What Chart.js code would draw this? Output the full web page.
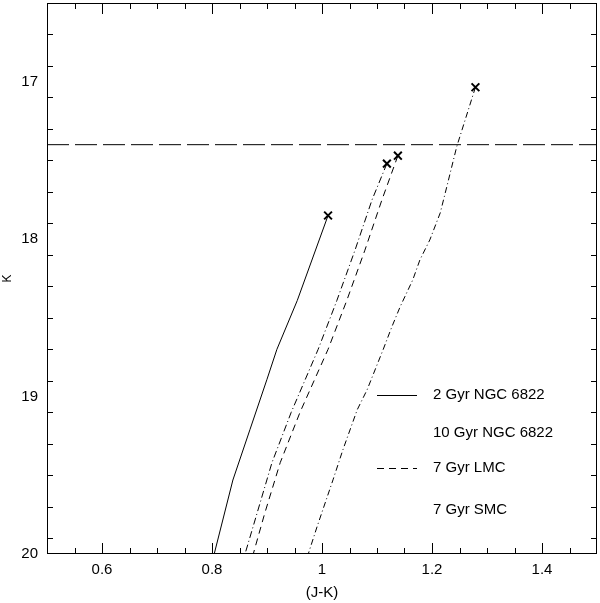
<!DOCTYPE html>
<html>
<head>
<meta charset="utf-8">
<script src="https://cdn.jsdelivr.net/npm/chart.js@4"></script>
<style>
  html, body { margin: 0; padding: 0; background: #fff; }
  canvas { display: block; }
</style>
</head>
<body>
<canvas id="c" width="600" height="603"></canvas>
<script>
// ---- data ----
const seriesLabels = ["2 Gyr NGC 6822", "10 Gyr NGC 6822", "7 Gyr LMC", "7 Gyr SMC"];

const jk2Gyr = [1.011, 0.955, 0.918, 0.900, 0.869, 0.838, 0.804];
const k2Gyr  = [17.85, 18.39, 18.70, 18.89, 19.21, 19.53, 20.00];

const jk10Gyr = [1.118, 1.091, 1.060, 1.027, 0.993, 0.944, 0.909, 0.882, 0.860];
const k10Gyr  = [17.52, 17.75, 18.07, 18.39, 18.70, 19.10, 19.42, 19.74, 20.00];

const jkLMC = [1.138, 1.109, 1.078, 1.045, 1.011, 0.960, 0.924, 0.896, 0.875];
const kLMC  = [17.47, 17.75, 18.07, 18.39, 18.70, 19.10, 19.42, 19.74, 20.00];

const jkSMC = [1.279, 1.245, 1.227, 1.215, 1.196, 1.178, 1.165, 1.142, 1.127, 1.111, 1.082, 1.064, 1.038, 1.020, 0.991, 0.975];
const kSMC  = [17.035, 17.412, 17.666, 17.833, 18.005, 18.132, 18.259, 18.43, 18.557, 18.703, 18.957, 19.084, 19.338, 19.529, 19.827, 20.00];

const limitK = 17.4;
const limitJK = [0.5, 1.5];

const xRange = [0.5, 1.5];
const yRange = [16.5, 20];
const xTickValues = [0.6, 0.8, 1, 1.2, 1.4];
const xTickLabels = ["0.6", "0.8", "1", "1.2", "1.4"];
const yTickValues = [17, 18, 19, 20];
const yTickLabels = ["17", "18", "19", "20"];
const xMinorStep = 0.05;
const yMinorStep = 0.2;

// ---- build ----
const FONT = "'Liberation Sans', Arial, Helvetica, sans-serif";
function pts(xs, ys) { return xs.map((x, i) => ({ x: x, y: ys[i] })); }

const curveStyles = [
  { dash: [], sample: true },
  { dash: [7, 3, 1, 3], sample: false },
  { dash: [7, 5], sample: true },
  { dash: [6, 3, 1, 3], sample: false }
];
const curveData = [pts(jk2Gyr, k2Gyr), pts(jk10Gyr, k10Gyr), pts(jkLMC, kLMC), pts(jkSMC, kSMC)];

const datasets = curveData.map((d, i) => ({
  label: seriesLabels[i],
  data: d,
  showLine: true,
  borderColor: '#000',
  backgroundColor: '#000',
  borderWidth: 1,
  borderDash: curveStyles[i].dash,
  pointStyle: 'crossRot',
  pointRadius: (ctx) => ctx.dataIndex === 0 ? 5.5 : 0,
  pointBorderWidth: 2,
  pointBorderColor: '#000',
  tension: 0,
  fill: false,
  legendSample: curveStyles[i].sample
}));
datasets.push({
  label: '',
  data: limitJK.map(x => ({ x: x, y: limitK })),
  showLine: true,
  borderColor: '#000',
  borderWidth: 1,
  borderDash: [22, 6],
  pointRadius: 0,
  fill: false,
  isLimit: true
});

function tickList(lo, hi, step) {
  const out = [];
  const n = Math.round((hi - lo) / step);
  for (let i = 1; i < n; i++) out.push(Math.round((lo + i * step) * 1000) / 1000);
  return out;
}

const framePlugin = {
  id: 'frame',
  afterDatasetsDraw(chart) {
    const ctx = chart.ctx;
    const a = chart.chartArea;
    const xs = chart.scales.x, ys = chart.scales.y;
    const L = Math.round(a.left), R = Math.round(a.right);
    const T = Math.round(a.top), B = Math.round(a.bottom);
    ctx.save();
    ctx.fillStyle = '#000';
    ctx.fillRect(L, T, R - L, 1);
    ctx.fillRect(L, B - 1, R - L, 1);
    ctx.fillRect(L, T, 1, B - T);
    ctx.fillRect(R - 1, T, 1, B - T);
    tickList(xRange[0], xRange[1], xMinorStep).forEach(v => {
      const major = xTickValues.some(t => Math.abs(t - v) < 1e-6);
      const len = major ? 11 : 6;
      const px = Math.round(xs.getPixelForValue(v));
      ctx.fillRect(px, B - len, 1, len);
      ctx.fillRect(px, T, 1, len);
    });
    tickList(yRange[0], yRange[1], yMinorStep).forEach(v => {
      const major = yTickValues.some(t => Math.abs(t - v) < 1e-6);
      const len = major ? 8 : 6;
      const py = Math.round(ys.getPixelForValue(v));
      ctx.fillRect(L, py, len, 1);
      ctx.fillRect(R - len, py, len, 1);
    });
    ctx.restore();
  }
};

const legendPlugin = {
  id: 'isoLegend',
  afterDatasetsDraw(chart) {
    const ctx = chart.ctx;
    const a = chart.chartArea;
    const rowCenters = [392, 430, 465, 507]; // offsets from top of plot area
    const lineX0 = a.left + 330, lineX1 = a.left + 370, textX = a.left + 386;
    ctx.save();
    ctx.fillStyle = '#000';
    ctx.strokeStyle = '#000';
    ctx.lineWidth = 1;
    ctx.font = '15px ' + FONT;
    ctx.textBaseline = 'middle';
    ctx.textAlign = 'left';
    let row = 0;
    chart.data.datasets.forEach(ds => {
      if (ds.isLimit) return;
      const y = a.top + rowCenters[row];
      if (ds.legendSample) {
        ctx.setLineDash(ds.borderDash || []);
        ctx.beginPath();
        ctx.moveTo(lineX0, Math.round(y) + 0.5);
        ctx.lineTo(lineX1, Math.round(y) + 0.5);
        ctx.stroke();
      }
      ctx.setLineDash([]);
      ctx.fillText(ds.label, textX, y);
      row++;
    });
    ctx.restore();
  }
};

new Chart(document.getElementById('c'), {
  type: 'scatter',
  data: { datasets: datasets },
  options: {
    responsive: false,
    animation: false,
    layout: { autoPadding: false, padding: { top: 3, right: 3, left: 0, bottom: 0 } },
    plugins: { legend: { display: false }, tooltip: { enabled: false } },
    scales: {
      x: {
        type: 'linear',
        min: xRange[0], max: xRange[1],
        grid: { display: false, drawTicks: false },
        border: { display: false },
        afterBuildTicks: (s) => { s.ticks = xTickValues.map(v => ({ value: v })); },
        afterFit: (s) => { s.height = 49; s.paddingLeft = 0; s.paddingRight = 0; },
        ticks: {
          color: '#000',
          font: { family: FONT, size: 15 },
          padding: 7,
          maxRotation: 0,
          autoSkip: false,
          callback: (v) => { const i = xTickValues.findIndex(t => Math.abs(t - v) < 1e-6); return i >= 0 ? xTickLabels[i] : ''; }
        },
        title: { display: true, text: '(J-K)', color: '#000', font: { family: FONT, size: 15 }, padding: { top: 0, bottom: 1 } }
      },
      y: {
        type: 'linear',
        reverse: true,
        min: yRange[0], max: yRange[1],
        grid: { display: false, drawTicks: false },
        border: { display: false },
        afterBuildTicks: (s) => { s.ticks = yTickValues.map(v => ({ value: v })); },
        afterFit: (s) => { s.width = 47; s.paddingTop = 0; s.paddingBottom = 0; },
        ticks: {
          color: '#000',
          font: { family: FONT, size: 15 },
          padding: 9,
          autoSkip: false,
          callback: (v) => { const i = yTickValues.findIndex(t => Math.abs(t - v) < 1e-6); return i >= 0 ? yTickLabels[i] : ''; }
        },
        title: { display: true, text: 'K', color: '#000', font: { family: FONT, size: 12 }, padding: { top: 0, bottom: 0 } }
      }
    }
  },
  plugins: [framePlugin, legendPlugin]
});
</script>
</body>
</html>
